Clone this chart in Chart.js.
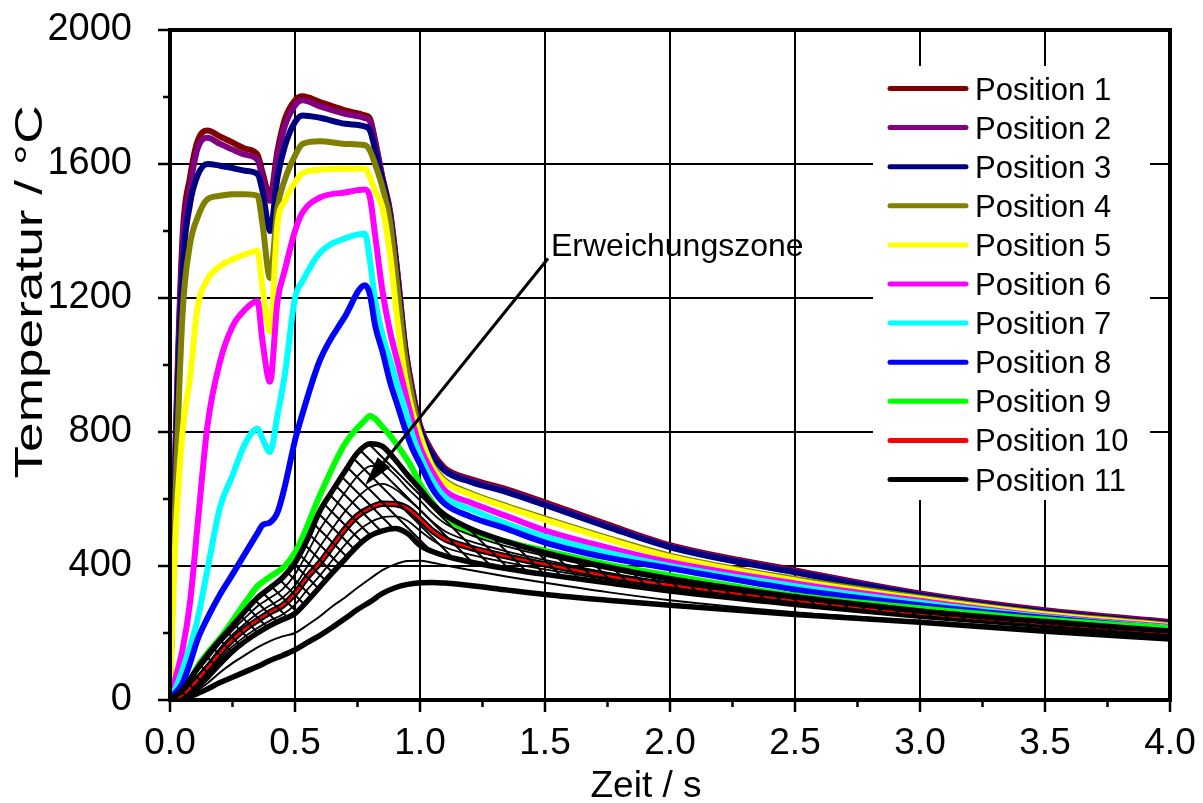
<!DOCTYPE html>
<html>
<head>
<meta charset="utf-8">
<script src="https://cdn.jsdelivr.net/npm/chart.js@4.4.1/dist/chart.umd.min.js"></script>
<style>
  html, body { margin: 0; padding: 0; background: #fff; }
</style>
</head>
<body>
<canvas id="myChart" width="1203" height="803"></canvas>
<script>
// Zeitachse der farbigen Kurven (s)
const zeit = [0, 0.02, 0.05, 0.08, 0.11, 0.15, 0.2, 0.25, 0.3, 0.35, 0.37, 0.4, 0.43, 0.46, 0.5, 0.53, 0.6, 0.7, 0.78, 0.8,
  0.82, 0.85, 0.88, 0.91, 0.94, 0.97, 1.0, 1.05, 1.1, 1.2, 1.35, 1.5, 1.75, 2.0, 2.5, 3.0, 3.5, 4.0]

// Temperaturen (°C)
const pos1 = [15, 700, 1380, 1560, 1668, 1700, 1682, 1664, 1646, 1628, 1575, 1505, 1640, 1735, 1790, 1802, 1785, 1760, 1745, 1735,
  1672, 1560, 1460, 1275, 1060, 925, 820, 740, 692, 660, 628, 590, 524, 462, 387, 318, 268, 233]
const pos2 = [15, 680, 1350, 1530, 1645, 1678, 1660, 1643, 1628, 1612, 1560, 1490, 1625, 1715, 1775, 1790, 1772, 1750, 1737, 1727,
  1667, 1556, 1456, 1270, 1055, 920, 816, 736, 688, 656, 624, 586, 521, 459, 384, 316, 266, 231]
const pos3 = [15, 640, 1280, 1480, 1565, 1600, 1595, 1588, 1580, 1570, 1520, 1400, 1560, 1655, 1725, 1745, 1738, 1720, 1712, 1700,
  1645, 1550, 1445, 1255, 1045, 910, 810, 730, 684, 652, 620, 582, 517, 456, 381, 313, 263, 228]
const pos4 = [15, 560, 1150, 1360, 1440, 1495, 1505, 1510, 1510, 1505, 1420, 1260, 1470, 1555, 1625, 1660, 1668, 1660, 1656, 1640,
  1600, 1530, 1430, 1230, 1030, 900, 795, 700, 655, 618, 578, 542, 484, 431, 361, 306, 258, 224]
const pos5 = [15, 450, 800, 960, 1170, 1255, 1295, 1315, 1330, 1340, 1230, 1100, 1420, 1490, 1545, 1572, 1583, 1586, 1586, 1560,
  1520, 1470, 1330, 1130, 965, 860, 790, 695, 650, 614, 574, 538, 480, 427, 357, 302, 255, 221]
const pos6 = [10, 60, 150, 290, 520, 820, 1010, 1115, 1165, 1190, 1070, 950, 1190, 1285, 1400, 1455, 1500, 1515, 1524, 1500,
  1390, 1220, 1100, 1010, 920, 830, 755, 680, 625, 590, 548, 506, 455, 411, 348, 296, 250, 218]
const pos7 = [5, 30, 90, 160, 240, 390, 575, 670, 765, 810, 780, 740, 850, 975, 1200, 1250, 1335, 1378, 1392, 1310,
  1195, 1090, 1015, 940, 870, 790, 730, 655, 605, 570, 525, 488, 440, 400, 340, 290, 247, 215]
const pos8 = [5, 20, 50, 110, 180, 245, 315, 375, 437, 498, 522, 530, 560, 640, 775, 855, 1015, 1145, 1238, 1210,
  1120, 1040, 950, 880, 810, 750, 705, 630, 585, 548, 510, 470, 425, 393, 330, 283, 245, 213]
const pos9 = [5, 8, 25, 55, 100, 140, 185, 236, 290, 340, 352, 368, 382, 400, 440, 485, 612, 765, 835, 848,
  840, 815, 790, 760, 727, 690, 645, 590, 545, 505, 472, 446, 405, 372, 312, 274, 240, 214]

// Zeitachse der schwarzen Kurvenschar (s)
const zeitZone = [0, 0.05, 0.1, 0.15, 0.2, 0.25, 0.3, 0.35, 0.4, 0.45, 0.5, 0.55, 0.6, 0.65, 0.7, 0.75, 0.8, 0.85, 0.9, 0.95,
  1.0, 1.05, 1.1, 1.2, 1.35, 1.5, 1.75, 2.0, 2.5, 3.0, 3.5, 4.0]

const pos11 = [0, 30, 85, 135, 180, 222, 265, 305, 335, 365, 410, 480, 565, 625, 683, 738, 765, 757, 718, 672,
  630, 585, 552, 512, 472, 440, 397, 362, 308, 266, 234, 206]
const zoneLinie1 = [0, 25, 75, 122, 168, 208, 245, 280, 305, 330, 375, 440, 510, 565, 620, 668, 698, 700, 672, 632,
  596, 557, 527, 493, 458, 430, 390, 356, 305, 264, 232, 204]
const zoneLinie2 = [0, 20, 64, 108, 155, 195, 228, 258, 282, 305, 342, 400, 458, 512, 563, 605, 635, 645, 630, 600,
  568, 532, 504, 474, 443, 418, 380, 350, 302, 261, 230, 202]
const pos10 = [0, 15, 52, 95, 140, 180, 212, 238, 262, 282, 318, 368, 410, 460, 510, 550, 573, 586, 585, 572,
  540, 505, 480, 455, 428, 405, 370, 343, 298, 258, 228, 200]
const zoneLinie3 = [0, 11, 40, 80, 122, 160, 190, 215, 237, 255, 285, 330, 372, 418, 463, 503, 530, 545, 548, 535,
  505, 477, 456, 434, 410, 390, 360, 334, 291, 254, 225, 197]
const zoneUnten = [0, 8, 32, 68, 108, 145, 175, 200, 222, 240, 258, 296, 338, 380, 420, 460, 490, 505, 512, 497,
  462, 443, 430, 412, 392, 375, 350, 325, 285, 250, 222, 195]
const kurveDuenn = [0, 6, 24, 50, 82, 110, 134, 157, 176, 190, 200, 224, 250, 280, 306, 335, 362, 388, 405, 415,
  416, 410, 402, 388, 368, 350, 322, 298, 262, 236, 212, 190]
const kurveUnten = [0, 4, 16, 33, 52, 68, 84, 100, 118, 133, 150, 172, 193, 217, 243, 270, 293, 318, 335, 345,
  350, 351, 349, 342, 328, 315, 298, 283, 255, 232, 205, 182]

const namen = ['Position 1', 'Position 2', 'Position 3', 'Position 4', 'Position 5', 'Position 6',
  'Position 7', 'Position 8', 'Position 9', 'Position 10', 'Position 11']
const farben = ['#800000', '#800080', '#000080', '#808000', '#ffff00', '#ff00ff',
  '#00ffff', '#0000ff', '#00ff00', '#ff0000', '#000000']

const FONT = "'Liberation Sans', Arial, sans-serif"

const pts = (xs, ys) => xs.map((x, i) => ({ x: x, y: ys[i] }))

function line (label, xs, ys, color, width, extra) {
  return Object.assign({
    label: label,
    data: pts(xs, ys),
    borderColor: color,
    backgroundColor: color,
    borderWidth: width,
    pointRadius: 0,
    cubicInterpolationMode: 'monotone',
    fill: false
  }, extra || {})
}

// Schraffur fuer die Erweichungszone
function schraffur () {
  const s = 15
  const c = document.createElement('canvas')
  c.width = s
  c.height = s
  const g = c.getContext('2d')
  g.strokeStyle = '#000'
  g.lineWidth = 2
  g.beginPath()
  g.moveTo(-2, -2); g.lineTo(s + 2, s + 2)
  g.moveTo(-2, s - 2); g.lineTo(2, s + 2)
  g.moveTo(s - 2, -2); g.lineTo(s + 2, 2)
  g.stroke()
  return g.createPattern(c, 'repeat')
}

const farbig = [pos1, pos2, pos3, pos4, pos5, pos6, pos7, pos8, pos9]
const datasets = farbig.map((ys, i) => line(namen[i], zeit, ys, farben[i], 6))

datasets.push(line('unten', zeitZone, kurveUnten, '#000', 5.5))          // 9
datasets.push(line('duenn', zeitZone, kurveDuenn, '#000', 2))            // 10
datasets.push(line('zone unten', zeitZone, zoneUnten, '#000', 5.5))      // 11
datasets.push(line('zone 3', zeitZone, zoneLinie3, '#000', 1.8))         // 12
datasets.push(line('pos10 rand', zeitZone, pos10, '#000', 6.5))          // 13
datasets.push(line(namen[9], zeitZone, pos10, farben[9], 2.5))           // 14
datasets.push(line('zone 2', zeitZone, zoneLinie2, '#000', 1.8))         // 15
datasets.push(line('zone 1', zeitZone, zoneLinie1, '#000', 1.8))         // 16
datasets.push(line(namen[10], zeitZone, pos11, '#000', 5.5, {            // 17
  fill: { target: 11 },
  backgroundColor: schraffur()
}))

// later datasets are drawn on top
datasets.forEach((d, i) => { d.order = 100 - i })

const extras = {
  id: 'extras',
  beforeDraw (chart) {
    const ctx = chart.ctx
    ctx.save()
    ctx.fillStyle = '#fff'
    ctx.fillRect(0, 0, chart.width, chart.height)
    ctx.restore()
  },
  afterDraw (chart) {
    const { ctx, chartArea: a, scales: { x, y } } = chart
    ctx.save()

    // Nebenstriche
    ctx.strokeStyle = '#000'
    ctx.lineWidth = 2.5
    ctx.beginPath()
    for (let t = 0.25; t < 4; t += 0.5) {
      const px = x.getPixelForValue(t)
      ctx.moveTo(px, a.bottom)
      ctx.lineTo(px, a.bottom + 7)
    }
    for (let v = 200; v < 2000; v += 400) {
      const py = y.getPixelForValue(v)
      ctx.moveTo(a.left, py)
      ctx.lineTo(a.left - 7, py)
    }
    ctx.stroke()

    // Rahmen
    ctx.lineWidth = 4
    ctx.strokeRect(a.left, a.top, a.right - a.left, a.bottom - a.top)

    // Pfeil zur Erweichungszone
    const x0 = x.getPixelForValue(1.512)
    const y0 = y.getPixelForValue(1318)
    const x1 = x.getPixelForValue(0.78)
    const y1 = y.getPixelForValue(640)
    const ang = Math.atan2(y1 - y0, x1 - x0)
    const len = 30
    const bx = x1 - len * Math.cos(ang)
    const by = y1 - len * Math.sin(ang)
    ctx.lineWidth = 3
    ctx.beginPath()
    ctx.moveTo(x0, y0)
    ctx.lineTo(bx, by)
    ctx.stroke()
    ctx.fillStyle = '#000'
    ctx.beginPath()
    ctx.moveTo(x1, y1)
    ctx.lineTo(bx + 8 * Math.sin(ang), by - 8 * Math.cos(ang))
    ctx.lineTo(bx - 8 * Math.sin(ang), by + 8 * Math.cos(ang))
    ctx.closePath()
    ctx.fill()

    ctx.font = '32px ' + FONT
    ctx.textAlign = 'left'
    ctx.textBaseline = 'alphabetic'
    ctx.fillText('Erweichungszone', x.getPixelForValue(1.524), y.getPixelForValue(1324))

    // Legende
    ctx.font = '31px ' + FONT
    ctx.fillStyle = '#fff'
    ctx.fillRect(873, 66, 277, 434)
    ctx.lineCap = 'round'
    ctx.lineWidth = 5
    namen.forEach((n, i) => {
      const ry = 88.5 + 39.1 * i
      ctx.strokeStyle = farben[i]
      ctx.beginPath()
      ctx.moveTo(890, ry)
      ctx.lineTo(966, ry)
      ctx.stroke()
      ctx.fillStyle = '#000'
      ctx.fillText(n, 975, ry + 11)
    })

    // Achsentitel
    ctx.fillStyle = '#000'
    ctx.font = '37px ' + FONT
    ctx.textAlign = 'center'
    ctx.fillText('Zeit / s', 646, 797)
    ctx.font = '38px ' + FONT
    ctx.translate(42, 292)
    ctx.rotate(-Math.PI / 2)
    ctx.scale(1.4, 1)
    ctx.fillText('Temperatur / °C', 0, 0)

    ctx.restore()
  }
}

const ctx = document.getElementById('myChart')
const myChart = new Chart(ctx, {
  type: 'line',
  data: { datasets: datasets },
  plugins: [extras],
  options: {
    responsive: false,
    animation: false,
    layout: { padding: { left: 0, top: 30, right: 33, bottom: 0 } },
    scales: {
      x: {
        type: 'linear',
        min: 0,
        max: 4,
        afterFit: (s) => { s.height = 103; s.paddingLeft = 0; s.paddingRight = 0 },
        border: { display: false },
        grid: { color: '#000', lineWidth: 2, tickLength: 12, tickColor: '#000', tickWidth: 2.5 },
        ticks: {
          stepSize: 0.5,
          color: '#000',
          padding: 10,
          maxRotation: 0,
          autoSkip: false,
          font: { family: FONT, size: 37 },
          callback: (v) => v.toFixed(1)
        }
      },
      y: {
        type: 'linear',
        min: 0,
        max: 2000,
        afterFit: (s) => { s.width = 170; s.paddingTop = 0; s.paddingBottom = 0 },
        border: { display: false },
        grid: { color: '#000', lineWidth: 2, tickLength: 12, tickColor: '#000', tickWidth: 2.5 },
        ticks: {
          stepSize: 400,
          color: '#000',
          padding: 26,
          font: { family: FONT, size: 38 },
          callback: (v) => String(v)
        }
      }
    },
    plugins: {
      legend: { display: false },
      tooltip: { enabled: false }
    }
  }
})
</script>
</body>
</html>
